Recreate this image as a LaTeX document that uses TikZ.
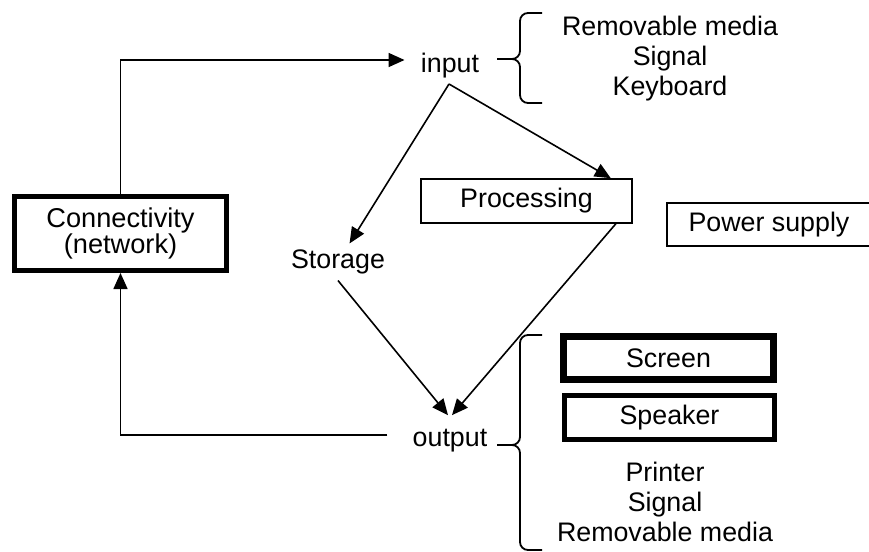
\documentclass[tikz,border=0pt]{standalone}
\usepackage{fontspec}
\setmainfont{Liberation Sans}
\usetikzlibrary{arrows.meta}
\tikzset{arrow/.style={-{Triangle[length=8pt,width=7pt]}, line width=0.8pt}}
\tikzset{plainbox/.style={draw, line width=0.8pt, inner sep=0pt}}
\tikzset{thickbox/.style={draw, line width=2.5pt, inner sep=0pt}}
\tikzset{word/.style={inner sep=3pt}}
% left curly brace in front of a list: top, middle, bottom
\newcommand{\listbrace}[3]{
  \draw[line width=0.9pt] (542,#1) -- (528,#1) to[out=180,in=90] (520,#1+8) -- (520,#2-8)
    to[out=-90,in=0] (512,#2) -- (497,#2);
  \draw[line width=0.9pt] (512,#2) to[out=0,in=90] (520,#2+8) -- (520,#3-8)
    to[out=-90,in=180] (528,#3) -- (542,#3);
}

\begin{document}
\begin{tikzpicture}[x=0.5pt, y=-0.5pt, font=\fontsize{13.4}{15}\selectfont]
      \useasboundingbox (0,0) rectangle (869,552);

      \node[thickbox, minimum width=106pt, minimum height=37pt, align=center,
        font=\fontsize{13.6}{13}\selectfont] (conn) at (120.5,233.5) {Connectivity\\(network)};
      \node[word] (input) at (450,66) {input};
      \node[word] (storage) at (338,262) {Storage};
      \node[word] (output) at (450,441) {output};
      \node[plainbox, minimum width=105.5pt, minimum height=22pt] (proc) at (526.5,201) {Processing};
      \node[plainbox, minimum width=102pt, minimum height=21.5pt] (power) at (769,224.5) {Power supply};
      \node[thickbox, line width=3.5pt, minimum width=105pt, minimum height=21.5pt] (screen) at (668.5,358) {Screen};
      \node[thickbox, minimum width=105pt, minimum height=22pt] (speaker) at (669.5,417.5) {Speaker};
      \node[align=center] (inlist) at (670,59) {Removable media\\Signal\\Keyboard};
      \node[align=center] (outlist) at (665,502) {Printer\\Signal\\Removable media};

      \coordinate (apex) at (449,84);

      \draw[arrow, shorten >=5pt] (conn.north) |- ([yshift=3pt]input.west);
      \draw[arrow] (apex) -- (storage);
      \draw[arrow] (apex) -- ([xshift=-11pt]proc.north east);
      \draw[arrow] (storage.south) -- ([xshift=-1pt,yshift=4pt]output.north);
      \draw[arrow] ([xshift=-8.5pt]proc.south east) -- ([xshift=1pt,yshift=4pt]output.north);
      \draw[arrow] ([xshift=-9.5pt,yshift=3pt]output.west) -| (conn.south);

      \listbrace{13}{59}{103}
      \listbrace{335}{445}{550}
    \end{tikzpicture}
\end{document}
